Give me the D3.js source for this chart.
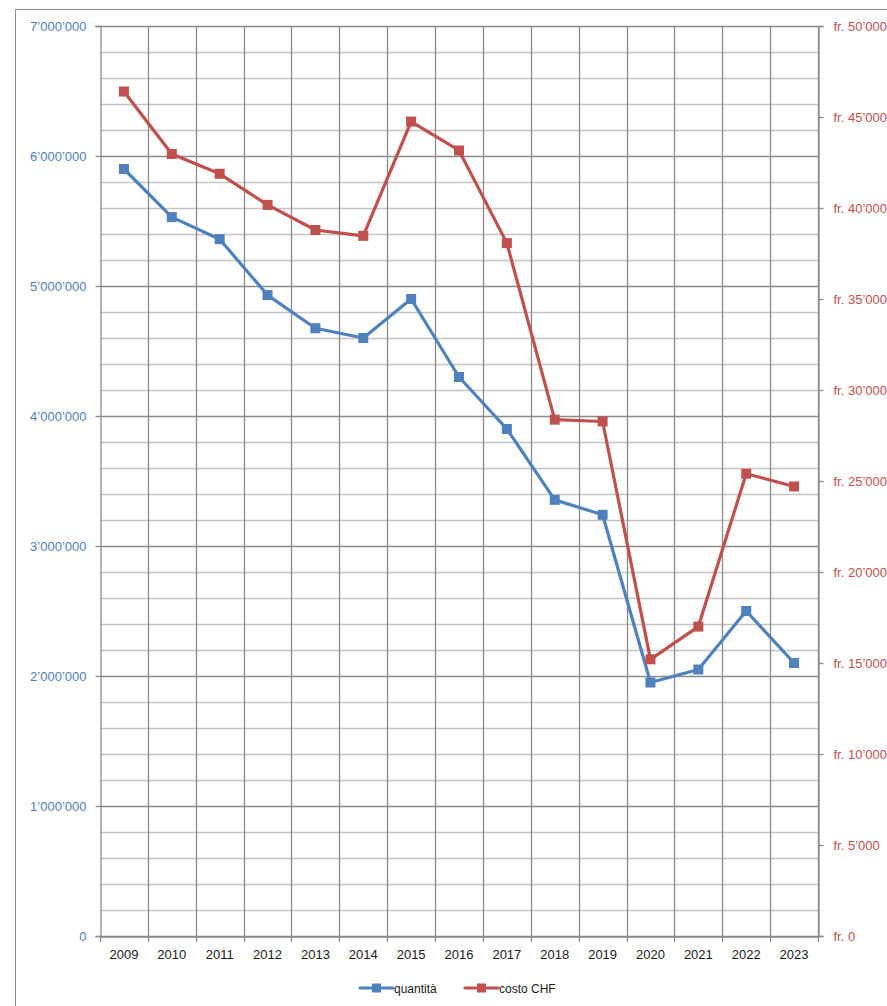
<!DOCTYPE html>
<html>
<head>
<meta charset="utf-8">
<script src="https://cdn.jsdelivr.net/npm/d3@7"></script>
<style>
  body { margin: 0; background: #fff; }
  svg { display: block; font-family: "Liberation Sans", Arial, sans-serif; }
</style>
</head>
<body>
<div id="graph"></div>
<script>
// data
let years = ["2009","2010","2011","2012","2013","2014","2015","2016","2017","2018","2019","2020","2021","2022","2023"];
let quantita = [5900000, 5530000, 5360000, 4930000, 4675000, 4600000, 4900000, 4300000, 3900000, 3355000, 3240000, 1950000, 2050000, 2500000, 2100000];
let costo = [46400, 42970, 41880, 40170, 38790, 38470, 44750, 43160, 38070, 28370, 28270, 15200, 17000, 25400, 24700];
let leftTicks = [0, 1000000, 2000000, 3000000, 4000000, 5000000, 6000000, 7000000];
let rightTicks = [0, 5000, 10000, 15000, 20000, 25000, 30000, 35000, 40000, 45000, 50000];

const blue = "#4F81BD", red = "#C0504D";
const width = 887, height = 1006;
const plot = {left: 100, right: 818, top: 26, bottom: 936};

const loc = d3.formatLocale({decimal: ".", thousands: "\u2019", grouping: [3], currency: ["", ""]});
const fmt = loc.format(",");

let svg = d3.select("#graph")
    .append("svg")
    .attr("width", width)
    .attr("height", height);

// outer chart border
svg.append("rect")
    .attr("x", 15.5).attr("y", 9.5)
    .attr("width", 900).attr("height", 1100)
    .attr("fill", "none")
    .attr("stroke", "#8c8c8c");

let x = d3.scaleBand()
    .domain(years)
    .range([plot.left, plot.right]);

let yL = d3.scaleLinear().domain([0, 7000000]).range([plot.bottom, plot.top]);
let yR = d3.scaleLinear().domain([0, 50000]).range([plot.bottom, plot.top]);

// horizontal gridlines every 200'000
let grid = svg.append("g");
grid.selectAll("line.h")
    .data(d3.range(0, 7000001, 200000))
    .enter().append("line")
    .attr("x1", plot.left).attr("x2", plot.right)
    .attr("y1", d => Math.round(yL(d)) + 0.5)
    .attr("y2", d => Math.round(yL(d)) + 0.5)
    .attr("stroke", d => d % 1000000 === 0 ? "#8a8a8a" : "#c4c4c4")
    .attr("stroke-width", 1.3);

// vertical gridlines at category boundaries
grid.selectAll("line.v")
    .data(years.slice(1).concat(["end"]))
    .enter().append("line")
    .attr("x1", (d, i) => Math.round(plot.left + (i + 1) * x.step()) + 0.5)
    .attr("x2", (d, i) => Math.round(plot.left + (i + 1) * x.step()) + 0.5)
    .attr("y1", plot.top).attr("y2", plot.bottom + 6)
    .attr("stroke", "#8a8a8a")
    .attr("stroke-width", 1.3);

// left axis
let leftAxis = svg.append("g")
    .attr("transform", `translate(${plot.left + 0.5},0)`)
    .call(d3.axisLeft(yL).tickValues(leftTicks).tickFormat(fmt).tickSize(5).tickPadding(9));
leftAxis.selectAll("text").attr("fill", blue).style("font-size", "13px");
leftAxis.selectAll("line, path").attr("stroke", "#8a8a8a").attr("stroke-width", 1.3);

// right axis
let rightAxis = svg.append("g")
    .attr("transform", `translate(${plot.right + 0.5},0)`)
    .call(d3.axisRight(yR).tickValues(rightTicks).tickFormat(d => "fr. " + fmt(d)).tickSize(5).tickPadding(10));
rightAxis.selectAll("text").attr("fill", red).style("font-size", "13px");
rightAxis.selectAll("line, path").attr("stroke", "#8a8a8a").attr("stroke-width", 1.3);

// x axis
let xAxis = svg.append("g")
    .attr("transform", `translate(0,${plot.bottom + 0.5})`)
    .call(d3.axisBottom(x).tickSize(0).tickPadding(13));
xAxis.select(".domain").attr("stroke", "#8a8a8a").attr("stroke-width", 1.3);
xAxis.selectAll("text").attr("fill", "#1a1a1a").style("font-size", "13px");
svg.append("line")
    .attr("x1", plot.left + 0.5).attr("x2", plot.left + 0.5)
    .attr("y1", plot.bottom).attr("y2", plot.bottom + 6)
    .attr("stroke", "#8a8a8a").attr("stroke-width", 1.3);

// series
let series = [
    {name: "quantità", values: quantita, y: yL, color: blue},
    {name: "costo CHF", values: costo, y: yR, color: red}
];

series.forEach(s => {
    let line = d3.line()
        .x((d, i) => x(years[i]) + x.bandwidth() / 2)
        .y(d => s.y(d));
    svg.append("path")
        .datum(s.values)
        .attr("d", line)
        .attr("fill", "none")
        .attr("stroke", s.color)
        .attr("stroke-width", 3.2)
        .attr("stroke-linejoin", "round");
    svg.append("g").selectAll("rect")
        .data(s.values)
        .enter().append("rect")
        .attr("x", (d, i) => x(years[i]) + x.bandwidth() / 2 - 5)
        .attr("y", d => s.y(d) - 5)
        .attr("width", 10).attr("height", 10)
        .attr("fill", s.color);
});

// legend
let legend = svg.append("g").attr("transform", "translate(360,988)");
let lx = [0, 105];
series.forEach((s, i) => {
    let g = legend.append("g").attr("transform", `translate(${lx[i]},0)`);
    g.append("line").attr("x1", 0).attr("x2", 33).attr("y1", 0).attr("y2", 0)
        .attr("stroke", s.color).attr("stroke-width", 3.2).attr("stroke-linecap", "round");
    g.append("rect").attr("x", 12).attr("y", -4.5).attr("width", 9).attr("height", 9).attr("fill", s.color);
    g.append("text").attr("x", 34).attr("y", 4.5)
        .style("font-size", "12px").attr("fill", "#1a1a1a")
        .text(s.name);
});
</script>
</body>
</html>
